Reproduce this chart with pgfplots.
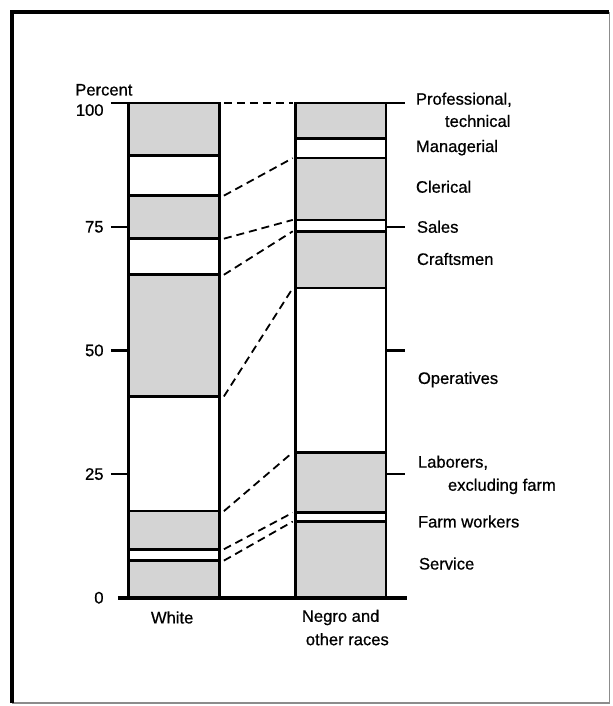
\documentclass[border=0pt]{standalone}
\usepackage{pgfplots}
\pgfplotsset{compat=1.18}
\usepackage{fontspec}
\setmainfont{Liberation Sans}[FakeBold=0.7]

\definecolor{stipple}{gray}{0.83}

\pgfplotsset{
  panel/.style={
    scale only axis,
    width=167pt, height=247.5pt,
    at={(0pt,0pt)}, anchor=south west,
    xmin=-0.5, xmax=1.5,
    ymin=0, ymax=100,
    hide axis,
    clip=false,
  },
  connector/.style={sharp plot, no marks, line width=0.9pt, dash pattern=on 4pt off 2.5pt},
}

\begin{document}
\begin{tikzpicture}
\fontsize{8.3}{10}\selectfont
% bars
\begin{axis}[
    panel,
    ybar stacked,
    bar width=45.5pt,
    every axis plot/.append style={line width=1.3pt, draw=black},
]
% Service, Farm workers, Laborers, Operatives, Craftsmen, Sales, Clerical, Managerial, Professional
\addplot[fill=stipple] coordinates {(0,7.5)  (1,15.4)};
\addplot[fill=white]   coordinates {(0,2.3)  (1,1.8)};
\addplot[fill=stipple] coordinates {(0,7.7)  (1,12.2)};
\addplot[fill=white]   coordinates {(0,23.2) (1,33.2)};
\addplot[fill=stipple] coordinates {(0,24.6) (1,11.5)};
\addplot[fill=white]   coordinates {(0,7.3)  (1,2.3)};
\addplot[fill=stipple] coordinates {(0,8.7)  (1,12.5)};
\addplot[fill=white]   coordinates {(0,8.1)  (1,3.9)};
\addplot[fill=stipple] coordinates {(0,10.6) (1,7.2)};
\end{axis}

% connectors, ticks, labels
\begin{axis}[panel]
\addplot[connector] coordinates {(0.30,100)  (0.713,100)};
\addplot[connector] coordinates {(0.30,81.3) (0.713,88.9)};
\addplot[connector] coordinates {(0.30,72.6) (0.713,76.4)};
\addplot[connector] coordinates {(0.30,65.3) (0.713,74.1)};
\addplot[connector] coordinates {(0.30,40.7) (0.713,62.6)};
\addplot[connector] coordinates {(0.30,17.5) (0.713,29.4)};
\addplot[connector] coordinates {(0.30,9.8)  (0.713,17.2)};
\addplot[connector] coordinates {(0.30,7.5)  (0.713,15.4)};

\pgfplotsinvokeforeach{25,50,75,100}{
  \draw[line width=1.1pt] (axis cs:-0.377,#1) -- (axis cs:-0.2725,#1);
  \draw[line width=1.1pt] (axis cs:1.2695,#1) -- (axis cs:1.383,#1);
}
\draw[line width=2pt] (axis cs:-0.335,0) -- (axis cs:1.395,0);

\node[anchor=east, inner sep=0pt] at (axis cs:-0.419,98.6) {100};
\node[anchor=east, inner sep=0pt] at (axis cs:-0.419,75) {75};
\node[anchor=east, inner sep=0pt] at (axis cs:-0.419,50) {50};
\node[anchor=east, inner sep=0pt] at (axis cs:-0.419,25) {25};
\node[anchor=east, inner sep=0pt] at (axis cs:-0.419,0) {0};
\node[anchor=west, inner sep=0pt] at (axis cs:-0.593,102.7) {Percent};

\node[inner sep=0pt] at (axis cs:-0.01,-4.0) {White};
\node[inner sep=0pt] at (axis cs:1.0,-4.0) {Negro and};
\node[inner sep=0pt] at (axis cs:1.04,-8.4) {other races};

\node[anchor=west, inner sep=0pt] at (axis cs:1.449,100.7) {Professional,};
\node[anchor=west, inner sep=0pt] at (axis cs:1.623,96.4) {technical};
\node[anchor=west, inner sep=0pt] at (axis cs:1.449,91.0) {Managerial};
\node[anchor=west, inner sep=0pt] at (axis cs:1.449,83.1) {Clerical};
\node[anchor=west, inner sep=0pt] at (axis cs:1.455,75.0) {Sales};
\node[anchor=west, inner sep=0pt] at (axis cs:1.455,68.5) {Craftsmen};
\node[anchor=west, inner sep=0pt] at (axis cs:1.461,44.1) {Operatives};
\node[anchor=west, inner sep=0pt] at (axis cs:1.461,27.3) {Laborers,};
\node[anchor=west, inner sep=0pt] at (axis cs:1.641,22.5) {excluding farm};
\node[anchor=west, inner sep=0pt] at (axis cs:1.461,15.4) {Farm workers};
\node[anchor=west, inner sep=0pt] at (axis cs:1.467,6.9) {Service};

% frame
\draw[line width=0.6pt, black!45] (axis cs:2.611,118.4) -- (axis cs:2.611,-21.3) -- (axis cs:-0.970,-21.3);
\draw[line width=2pt] (axis cs:-0.970,-21.3) -- (axis cs:-0.970,118.4) -- (axis cs:2.611,118.4);
\path (axis cs:-1.042,-21.9) rectangle (axis cs:2.629,120.87);
\end{axis}
\end{tikzpicture}
\end{document}
